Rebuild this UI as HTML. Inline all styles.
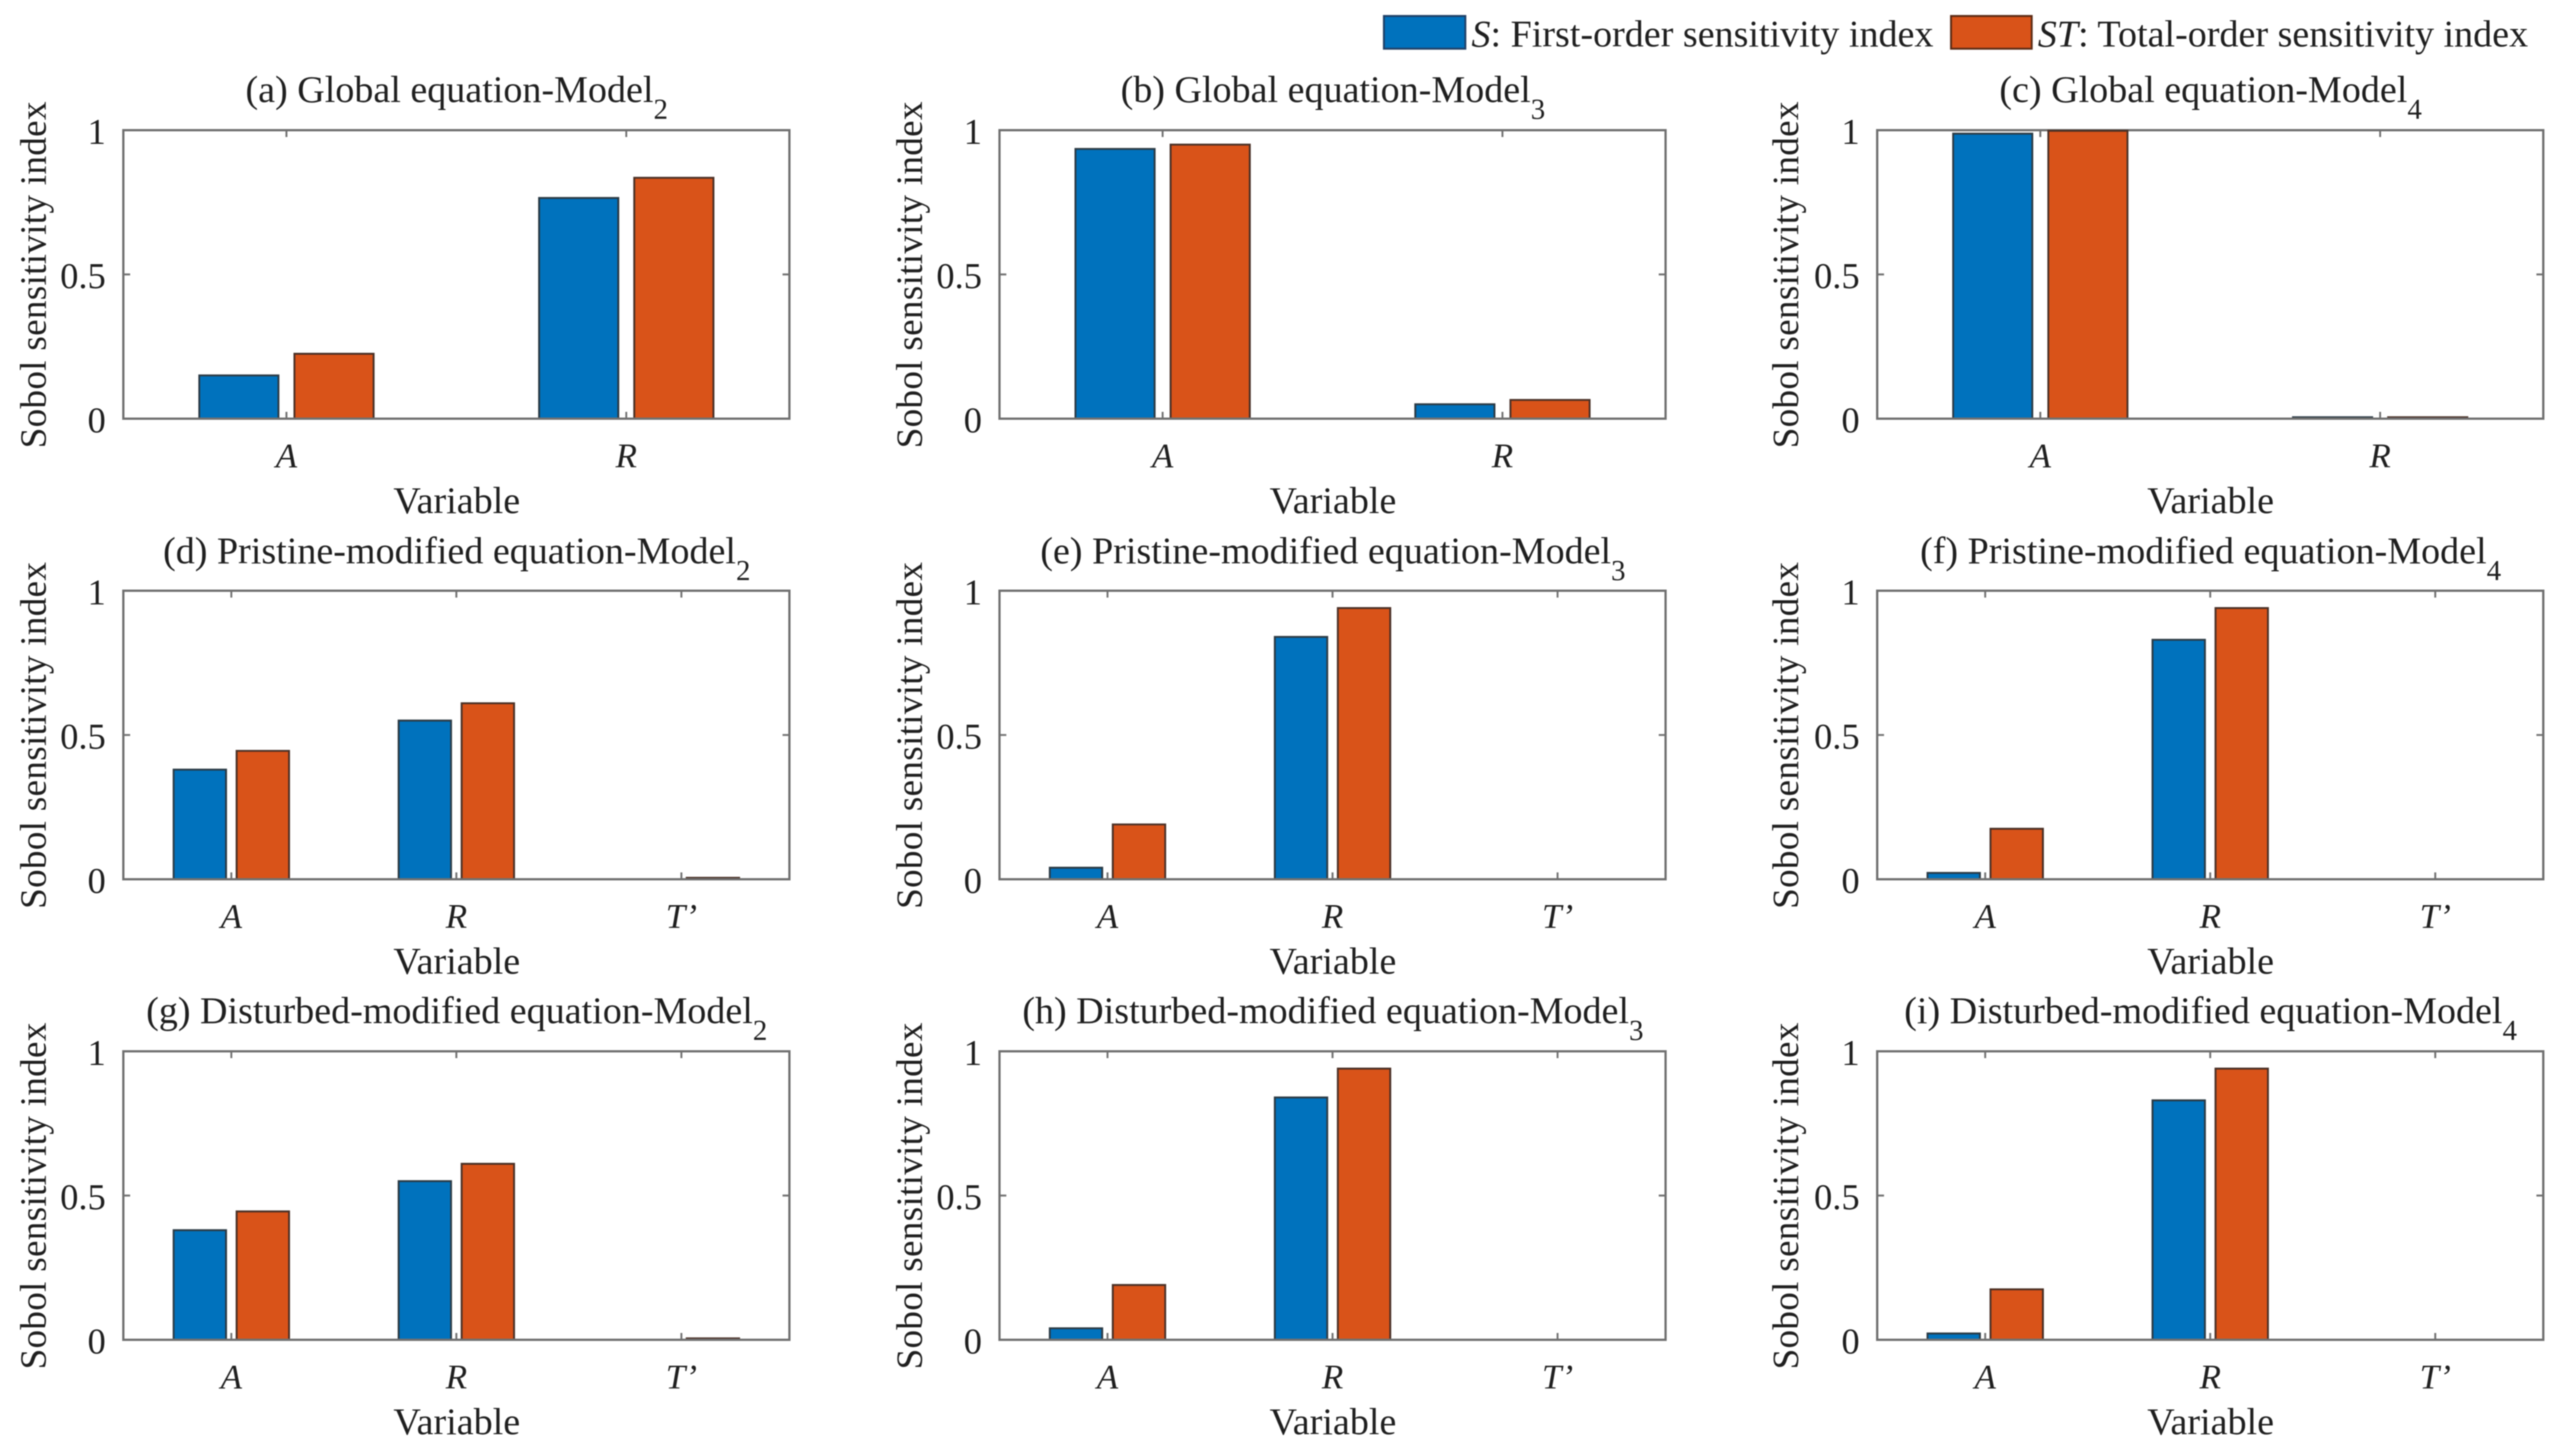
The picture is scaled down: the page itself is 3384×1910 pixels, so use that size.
<!DOCTYPE html>
<html lang="en">
<head>
<meta charset="utf-8">
<title>Sobol sensitivity indices</title>
<style>
html,body{margin:0;padding:0;background:#fff;}
svg{display:block;font-family:"Liberation Serif","Times New Roman",serif;fill:#1f1f1f;filter:blur(0.7px);}
.title{font-size:50px;text-anchor:middle;fill:#1f1f1f;}
.sub{font-size:38px;}
.ylab{font-size:49px;text-anchor:middle;letter-spacing:.3px;}
.xlab{font-size:50px;text-anchor:middle;}
.ytick{font-size:48px;text-anchor:end;}
.xtick{font-size:46px;text-anchor:middle;font-style:italic;}
.leg{font-size:50px;}
.ax{fill:none;stroke:#707070;stroke-width:3;}
.tk{stroke:#707070;stroke-width:2.5;fill:none;}
</style>
</head>
<body>
<svg id="fig" width="3384" height="1910" viewBox="0 0 3384 1910" xmlns="http://www.w3.org/2000/svg">
<rect width="3384" height="1910" fill="#fff"/>

<g>
  <rect x="1818" y="21" width="107" height="43" fill="#0072BD" stroke="#1f3f66" stroke-width="2.5"/>
  <text class="leg" x="1933" y="61"><tspan font-style="italic">S</tspan>: First-order sensitivity index</text>
  <rect x="2563" y="21" width="106" height="43" fill="#D95319" stroke="#5a2a14" stroke-width="2.5"/>
  <text class="leg" x="2677" y="61"><tspan font-style="italic">ST</tspan>: Total-order sensitivity index</text>
</g>

<g id="panel-a" transform="translate(162,171)">
  <text class="title" x="438" y="-37">(a) Global equation-Model<tspan class="sub" dy="22">2</tspan></text>
  <text class="ylab" transform="translate(-102,190) rotate(-90)">Sobol sensitivity index</text>
  <text class="xlab" x="438" y="503">Variable</text>
</g>
<g id="panel-b" transform="translate(1313,171)">
  <text class="title" x="438" y="-37">(b) Global equation-Model<tspan class="sub" dy="22">3</tspan></text>
  <text class="ylab" transform="translate(-102,190) rotate(-90)">Sobol sensitivity index</text>
  <text class="xlab" x="438" y="503">Variable</text>
</g>
<g id="panel-c" transform="translate(2466,171)">
  <text class="title" x="438" y="-37">(c) Global equation-Model<tspan class="sub" dy="22">4</tspan></text>
  <text class="ylab" transform="translate(-104,190) rotate(-90)">Sobol sensitivity index</text>
  <text class="xlab" x="438" y="503">Variable</text>
</g>
<g id="panel-d" transform="translate(162,776)">
  <text class="title" x="438" y="-36">(d) Pristine-modified equation-Model<tspan class="sub" dy="22">2</tspan></text>
  <text class="ylab" transform="translate(-102,190) rotate(-90)">Sobol sensitivity index</text>
  <text class="xlab" x="438" y="503">Variable</text>
</g>
<g id="panel-e" transform="translate(1313,776)">
  <text class="title" x="438" y="-36">(e) Pristine-modified equation-Model<tspan class="sub" dy="22">3</tspan></text>
  <text class="ylab" transform="translate(-102,190) rotate(-90)">Sobol sensitivity index</text>
  <text class="xlab" x="438" y="503">Variable</text>
</g>
<g id="panel-f" transform="translate(2466,776)">
  <text class="title" x="438" y="-36">(f) Pristine-modified equation-Model<tspan class="sub" dy="22">4</tspan></text>
  <text class="ylab" transform="translate(-104,190) rotate(-90)">Sobol sensitivity index</text>
  <text class="xlab" x="438" y="503">Variable</text>
</g>
<g id="panel-g" transform="translate(162,1381)">
  <text class="title" x="438" y="-37">(g) Disturbed-modified equation-Model<tspan class="sub" dy="22">2</tspan></text>
  <text class="ylab" transform="translate(-102,190) rotate(-90)">Sobol sensitivity index</text>
  <text class="xlab" x="438" y="503">Variable</text>
</g>
<g id="panel-h" transform="translate(1313,1381)">
  <text class="title" x="438" y="-37">(h) Disturbed-modified equation-Model<tspan class="sub" dy="22">3</tspan></text>
  <text class="ylab" transform="translate(-102,190) rotate(-90)">Sobol sensitivity index</text>
  <text class="xlab" x="438" y="503">Variable</text>
</g>
<g id="panel-i" transform="translate(2466,1381)">
  <text class="title" x="438" y="-37">(i) Disturbed-modified equation-Model<tspan class="sub" dy="22">4</tspan></text>
  <text class="ylab" transform="translate(-104,190) rotate(-90)">Sobol sensitivity index</text>
  <text class="xlab" x="438" y="503">Variable</text>
</g>
</svg>

<script>
const categoriesTwo = ['A', 'R'];
const categoriesThree = ['A', 'R', "T’"];
const yTicks = [0, 0.5, 1];
const yTickLabels = ['0', '0.5', '1'];

const firstOrderA = [0.15, 0.765];
const totalOrderA = [0.225, 0.835];
const firstOrderB = [0.935, 0.05];
const totalOrderB = [0.95, 0.065];
const firstOrderC = [0.988, 0.005];
const totalOrderC = [0.998, 0.005];
const firstOrderD = [0.38, 0.55, 0];
const totalOrderD = [0.445, 0.61, 0.005];
const firstOrderE = [0.04, 0.84, 0];
const totalOrderE = [0.19, 0.94, 0];
const firstOrderF = [0.022, 0.83, 0];
const totalOrderF = [0.175, 0.94, 0];
const firstOrderG = [0.38, 0.55, 0];
const totalOrderG = [0.445, 0.61, 0.005];
const firstOrderH = [0.04, 0.84, 0];
const totalOrderH = [0.19, 0.94, 0];
const firstOrderI = [0.022, 0.83, 0];
const totalOrderI = [0.175, 0.94, 0];

const NS = 'http://www.w3.org/2000/svg';
const PLOT_W = 875;
const PLOT_H = 379;
const BAR_W = 0.233;
const BAR_OFF = 0.14;
const X_PAD = 0.48;

function mk(parent, tag, attrs) {
  const el = document.createElementNS(NS, tag);
  for (const k in attrs) el.setAttribute(k, attrs[k]);
  parent.appendChild(el);
  return el;
}

function drawPanel(id, cats, first, total) {
  const g = document.getElementById('panel-' + id);
  const n = cats.length;
  const xMin = 1 - X_PAD;
  const xMax = n + X_PAD;
  const xScale = v => (v - xMin) / (xMax - xMin) * PLOT_W;
  const yScale = v => PLOT_H - v * PLOT_H;
  const barPx = xScale(1 + BAR_W) - xScale(1);

  const frame = mk(g, 'rect', {class: 'ax', x: 0, y: 0, width: PLOT_W, height: PLOT_H, fill: '#fff'});
  
  

  yTicks.forEach((t, i) => {
    const y = yScale(t);
    const a = mk(g, 'path', {class: 'tk', d: 'M0 ' + y + 'h9M' + PLOT_W + ' ' + y + 'h-9'});
    
    
    const lab = mk(g, 'text', {class: 'ytick', x: -23, y: y + 18});
    lab.textContent = yTickLabels[i];
    
    
  });

  cats.forEach((c, i) => {
    const x = xScale(i + 1);
    const a = mk(g, 'path', {class: 'tk', d: 'M' + x + ' 0v9M' + x + ' ' + PLOT_H + 'v-9'});
    
    
    const lab = mk(g, 'text', {class: 'xtick', x: x, y: PLOT_H + 64});
    lab.textContent = c;
    
    

    const b1 = mk(g, 'rect', {
      x: xScale(i + 1 - BAR_OFF - BAR_W / 2), y: yScale(first[i]),
      width: barPx, height: first[i] * PLOT_H,
      fill: '#0072BD', stroke: '#2b3a44', 'stroke-width': 2.5
    });
    
    

    const b2 = mk(g, 'rect', {
      x: xScale(i + 1 + BAR_OFF - BAR_W / 2), y: yScale(total[i]),
      width: barPx, height: total[i] * PLOT_H,
      fill: '#D95319', stroke: '#4a3026', 'stroke-width': 2.5
    });
    
    
  });

  const base = mk(g, 'path', {class: 'ax', d: 'M0 ' + PLOT_H + 'H' + PLOT_W});
  
  
}

drawPanel('a', categoriesTwo, firstOrderA, totalOrderA);
drawPanel('b', categoriesTwo, firstOrderB, totalOrderB);
drawPanel('c', categoriesTwo, firstOrderC, totalOrderC);
drawPanel('d', categoriesThree, firstOrderD, totalOrderD);
drawPanel('e', categoriesThree, firstOrderE, totalOrderE);
drawPanel('f', categoriesThree, firstOrderF, totalOrderF);
drawPanel('g', categoriesThree, firstOrderG, totalOrderG);
drawPanel('h', categoriesThree, firstOrderH, totalOrderH);
drawPanel('i', categoriesThree, firstOrderI, totalOrderI);
</script>
</body>
</html>
